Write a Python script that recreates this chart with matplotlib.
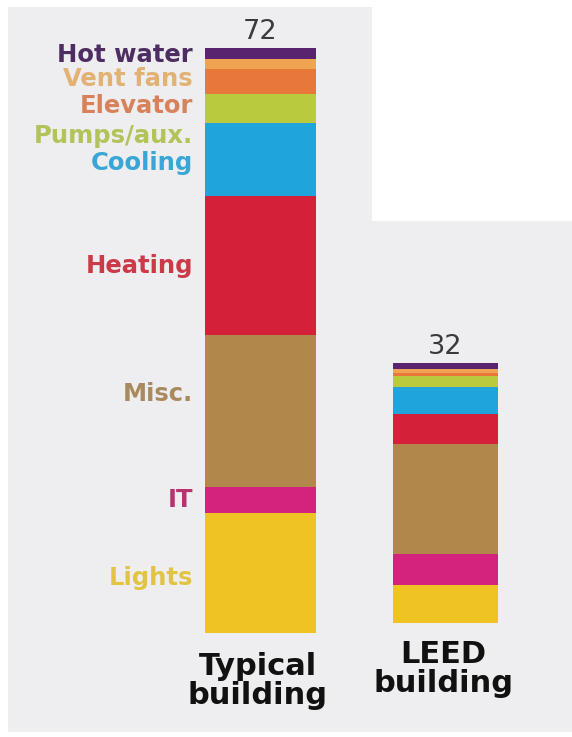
import matplotlib
matplotlib.use("Agg")
import matplotlib.pyplot as plt
from matplotlib.patches import Polygon

# ---- data ----
categories = ["Lights", "IT", "Misc.", "Heating", "Cooling", "Pumps/aux.", "Elevator", "Vent fans", "Hot water"]
typical_values = [14.7, 3.3, 18.7, 17.0, 9.0, 3.6, 3.1, 1.2, 1.4]
leed_values = [4.7, 3.8, 13.5, 3.7, 3.3, 1.4, 0.4, 0.5, 0.7]
building_labels = ["Typical\nbuilding", "LEED\nbuilding"]
totals = [72, 32]

bar_colors = ["#f0c324", "#d4237c", "#b2874c", "#d42038", "#1fa5dc", "#b9ca3c", "#e8783a", "#f0a452", "#5a2370"]
label_colors = ["#e2c444", "#b8326e", "#a88a5e", "#cc3a48", "#3aa6d6", "#b4c25a", "#d8825c", "#e2b274", "#4e2d62"]

W, H = 572, 737
fig = plt.figure(figsize=(W / 100, H / 100), dpi=100)
fig.patch.set_facecolor("white")

# paper background (scanned clipping)
bg = Polygon([(8 / W, 1 - 7 / H), (372 / W, 1 - 7 / H), (372 / W, 1 - 221 / H),
              (1.0, 1 - 221 / H), (1.0, 1 - 732 / H), (8 / W, 1 - 732 / H)],
             closed=True, transform=fig.transFigure, facecolor="#eeedf0",
             edgecolor="none", zorder=-5)
fig.patches.append(bg)

px_per_unit = 8.13

def make_axes(left_px, right_px, base_px, total):
    h = total * px_per_unit
    ax = fig.add_axes([left_px / W, (H - base_px) / H, (right_px - left_px) / W, h / H])
    ax.set_xlim(-0.5, 0.5)
    ax.set_ylim(0, total)
    ax.axis("off")
    ax.patch.set_alpha(0)
    ax.set_zorder(2)
    return ax

ax1 = make_axes(205, 316, 633, sum(typical_values))
ax2 = make_axes(393, 498, 623, sum(leed_values))

for ax, vals, tot in [(ax1, typical_values, totals[0]), (ax2, leed_values, totals[1])]:
    bottom = 0
    for v, c in zip(vals, bar_colors):
        ax.bar(0, v, width=1.0, bottom=bottom, color=c, edgecolor="none")
        bottom += v
    ax.annotate(str(tot), xy=(0, bottom), xytext=(0, 2), textcoords="offset points",
                ha="center", va="bottom", fontsize=19.5, color="#3a3a3a",
                family="DejaVu Sans", annotation_clip=False)

# category labels at the left of the typical bar
label_y = {"Hot water": 55, "Vent fans": 79, "Elevator": 106, "Pumps/aux.": 136,
           "Cooling": 163, "Heating": 266, "Misc.": 394, "IT": 500, "Lights": 578}
for cat, col in zip(categories, label_colors):
    fig.text(193 / W, 1 - label_y[cat] / H, cat, ha="right", va="center",
             fontsize=17.5, color=col, family="DejaVu Sans", weight="bold")

# building labels
fig.text(258 / W, 1 - 681 / H, building_labels[0], ha="center", va="center",
         fontsize=22, weight="heavy", color="#111111", family="DejaVu Sans",
         linespacing=1.0)
fig.text(443 / W, 1 - 669 / H, building_labels[1], ha="center", va="center",
         fontsize=22, weight="heavy", color="#111111", family="DejaVu Sans",
         linespacing=1.0)

fig.savefig("out.png", dpi=100, facecolor=fig.get_facecolor())
